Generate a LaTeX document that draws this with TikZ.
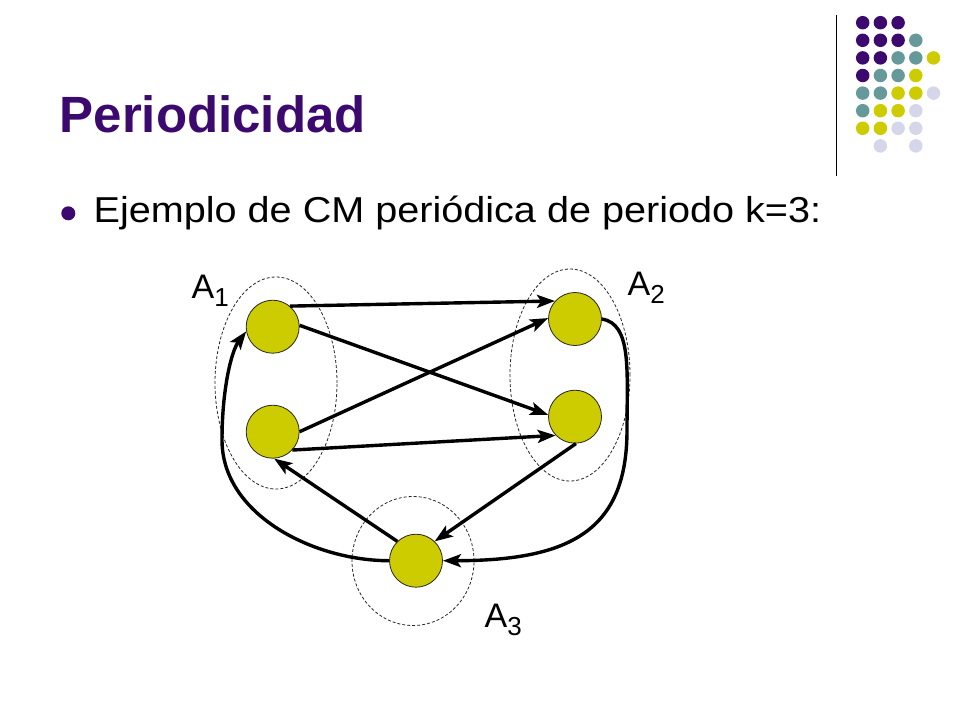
\documentclass[tikz,border=0pt]{standalone}
\usepackage{fontspec}
\setmainfont{Liberation Sans}
\newfontfamily\bodyfont[FakeStretch=1.1]{Liberation Sans}
\usetikzlibrary{%
  arrows.meta,%
  shapes.geometric,% wg. ellipse
  positioning%
}
\definecolor{dkpurple}{RGB}{60,10,110}
\definecolor{dkteal}{RGB}{102,153,153}
\definecolor{stateyellow}{RGB}{204,204,0}
\definecolor{lavender}{RGB}{214,214,235}
\newcommand{\grplabel}[1]{A\raisebox{-8pt}{\fontsize{26}{26}\selectfont #1}}

\begin{document}
\begin{tikzpicture}[
  x=1pt, y=-1pt,
  >={Stealth[length=18pt,width=13pt,inset=4pt]},
  line width=3.4pt,
  state/.style={circle, draw=black!85, fill=stateyellow, inner sep=0pt, minimum size=53pt, line width=0.8pt},
  grupo/.style={ellipse, draw=black!85, dash pattern=on 3pt off 2pt, inner sep=0pt, line width=0.8pt},
  dot/.style={circle, fill=#1, inner sep=0pt, minimum size=13.5pt},
  grplab/.style={anchor=base west, inner sep=0pt, font=\fontsize{34}{34}\selectfont}]

\useasboundingbox (0,0) rectangle (960,720);

% header
\node[anchor=base west, inner sep=0pt, text=dkpurple, font=\fontsize{51}{51}\selectfont\bfseries] (title) at (58,132) {Periodicidad};
\draw [line width=1.5pt] (836.5,15) -- (836.5,176);
\foreach \c/\r/\col in {0/0/dkpurple,1/0/dkpurple,2/0/dkpurple,
  0/1/dkpurple,1/1/dkpurple,2/1/dkpurple,3/1/dkteal,
  0/2/dkpurple,1/2/dkpurple,2/2/dkteal,3/2/dkteal,4/2/stateyellow,
  0/3/dkpurple,1/3/dkteal,2/3/dkteal,3/3/stateyellow,
  0/4/dkteal,1/4/dkteal,2/4/stateyellow,3/4/stateyellow,4/4/lavender,
  0/5/dkteal,1/5/stateyellow,2/5/stateyellow,3/5/lavender,
  0/6/stateyellow,1/6/stateyellow,2/6/lavender,3/6/lavender,
  1/7/lavender,3/7/lavender} {
  \node[dot=\col] (d\c\r) at (862.7+17.7*\c,22.7+17.6*\r) {};
}

% bullet
\node[circle, fill=dkpurple, inner sep=0pt, minimum size=14pt] (bullet) at (68.3,213.3) {};
\node[anchor=base west, inner sep=0pt, font=\bodyfont\fontsize{36}{36}\selectfont] (texto) at (92,222) {Ejemplo de CM peri\'odica de periodo k=3:};

% grupos
\node[grupo, minimum width=122pt, minimum height=212pt] (g1) at (276,383) {};
\node[grupo, minimum width=120pt, minimum height=212pt] (g2) at (570,375) {};
\node[grupo, minimum width=122pt, minimum height=129pt] (g3) at (413,561) {};
\node[grplab] (l1) at (190,298) {\grplabel{1}};
\node[grplab] (l2) at (626,295) {\grplabel{2}};
\node[grplab] (l3) at (483,627) {\grplabel{3}};

% estados
\node[state] (s1) at (272.7,326.7) {};
\node[state] (s2) at (272.7,431.7) {};
\node[state] (s3) at (575,319) {};
\node[state] (s4) at (575,416.7) {};
\node[state] (s5) at (416,560.7) {};

\draw [->] (s1.50) -- (s3.138);
\draw [->] (s1.3) -- (s4.176);
\draw [->] (s2.0) -- (s3.178);
\draw [->] (s2.-43) -- (s4.-136);
\draw [->] (s4.-88) -- (s5.46);
\draw [->] (s5.134) -- (s2.-87);

\coordinate (k1) at (627,430);
\coordinate (k2) at (222,440);
\draw [->] (s3.east) .. controls +(30,5) and +(0,-60) .. (k1) .. controls +(0,100) and +(128,0) .. (s5.east);
\draw [->] (s5.west) .. controls +(-75,0) and +(0,75) .. (k2) .. controls +(0,-50) and +(-15,20) .. (s1.190);

\end{tikzpicture}
\end{document}
